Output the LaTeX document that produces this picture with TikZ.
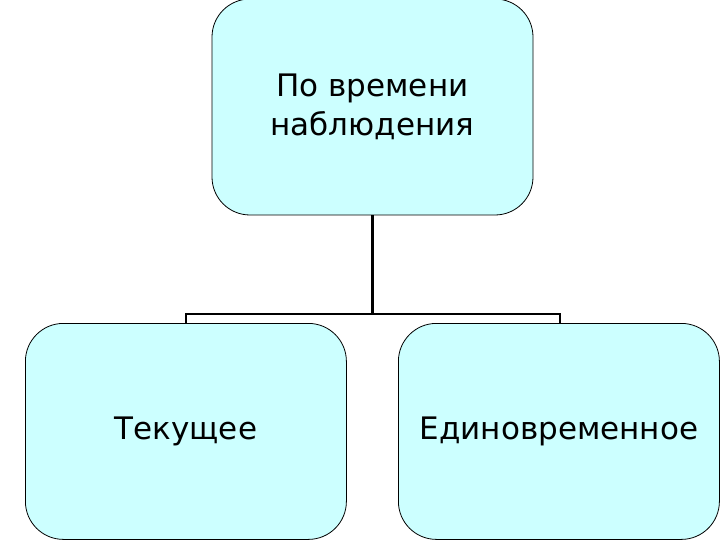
\documentclass[tikz,border=0pt]{standalone}
\usepackage{fontspec}
\setmainfont{DejaVu Sans}
\definecolor{boxfill}{HTML}{CCFFFF}
\begin{document}
\begin{tikzpicture}[x=1pt,y=-1pt,
  box/.style={draw=black,line width=0.8pt,fill=boxfill,rounded corners=38pt,minimum width=321pt,minimum height=216pt,inner sep=0pt,align=center,font=\fontsize{31}{39}\selectfont},
  conn/.style={draw=black,line width=2.5pt}]
\useasboundingbox (0,0) rectangle (720,540);
\begin{scope}
\clip (0,0) rectangle (720,540);
\node[box] (top) at (372.5,107) {По времени\\наблюдения};
\node[box,anchor=north west] (left) at (25,323) {Текущее};
\node[box,anchor=north west] (right) at (398,323) {Единовременное};
\coordinate (j) at (372.5,314);
\coordinate (jl) at (186,314);
\coordinate (jr) at (560,314);
\coordinate (tl) at (186,323);
\coordinate (tr) at (560,323);
\draw[conn] (top.south) -- (j);
\draw[conn] (tl) -- (jl) -- (jr) -- (tr);
\end{scope}
\end{tikzpicture}
\end{document}
